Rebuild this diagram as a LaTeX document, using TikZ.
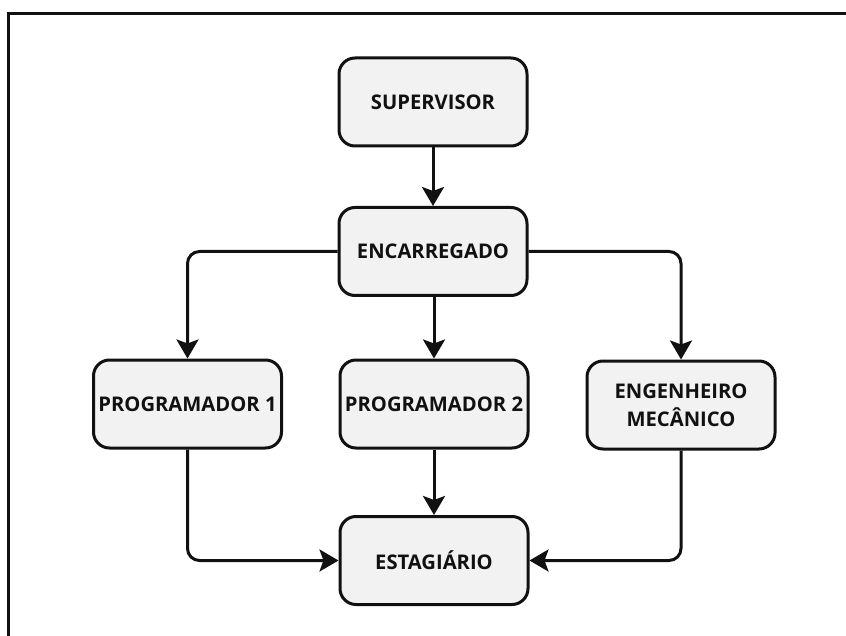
\documentclass[tikz,border=0pt]{standalone}
\usepackage{fontspec}
\setmainfont{Open Sans}
\usetikzlibrary{arrows.meta,positioning}
\definecolor{boxfill}{HTML}{F2F2F2}
\definecolor{ink}{HTML}{111111}
\tikzset{
  role/.style={draw=ink, fill=boxfill, line width=3pt, rounded corners=16pt,
    minimum width=188pt, minimum height=88pt, inner sep=0pt,
    font=\fontsize{20.2}{28}\selectfont\bfseries, text=ink, align=center},
  link/.style={draw=ink, line width=3pt, rounded corners=12pt,
    -{Stealth[length=19pt,width=22pt,inset=4pt]}},
}
\begin{document}
\begin{tikzpicture}[x=1pt,y=-1pt]
\useasboundingbox (0,0) rectangle (846,636);
% outer frame (top and left edges)
\draw[ink, line width=2.5pt] (8.5,636) -- (8.5,13.5) -- (846,13.5);

\node[role] (sup) at (433,102) {SUPERVISOR};
\node[role] (enc) at (433,251.5) {ENCARREGADO};
\node[role] (p1)  at (187.5,404) {PROGRAMADOR 1};
\node[role] (p2)  at (434,404) {PROGRAMADOR 2};
\node[role] (eng) at (681,405) {ENGENHEIRO\\MECÂNICO};
\node[role] (est) at (434,560.5) {ESTAGIÁRIO};

\draw[link] (sup) -- (enc);
\draw[link] (enc.west) -| (p1.north);
\draw[link] (enc.south -| p2.north) -- (p2.north);
\draw[link] (enc.east) -| (eng.north);
\draw[link] (p2) -- (est);
\draw[link] (p1.south) |- (est.west);
\draw[link] (eng.south) |- (est.east);
\end{tikzpicture}
\end{document}
